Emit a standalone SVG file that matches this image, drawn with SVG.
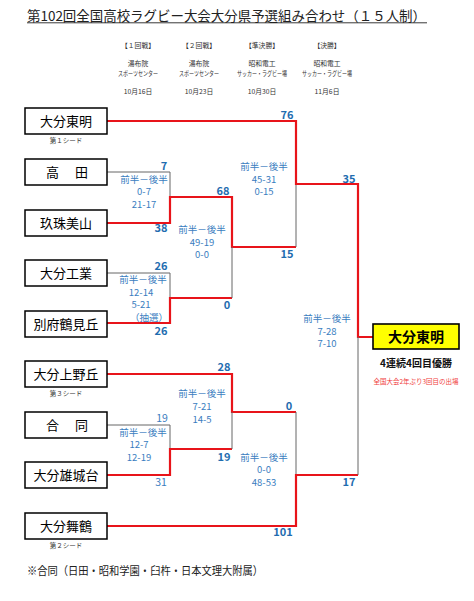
<svg xmlns="http://www.w3.org/2000/svg" width="474" height="601" viewBox="0 0 474 601">
<style>
text{font-family:"Noto Sans CJK JP","Liberation Sans",sans-serif;}
.box{fill:#fff;stroke:#000;stroke-width:1.5;}
.nm{font-size:13px;text-anchor:middle;fill:#000;}
.seed{font-size:6.5px;text-anchor:middle;fill:#333;}
.hd{font-size:6.8px;text-anchor:middle;fill:#333;}
.sc{font-size:11px;font-weight:bold;text-anchor:middle;fill:#1F6DB0;}
.scl{font-size:10.5px;text-anchor:middle;fill:#3A7DC0;}
.dt{font-size:9.5px;text-anchor:middle;fill:#3A7DC0;}
.r{fill:none;stroke:#E8141A;stroke-width:2.2;}
.g{fill:none;stroke:#666;stroke-width:1;}
</style>
<rect width="474" height="601" fill="#fff"/>
<g id="title">
<text x="27" y="20.5" font-size="13.5" fill="#222" textLength="399" lengthAdjust="spacingAndGlyphs">第102回全国高校ラグビー大会大分県予選組み合わせ（１５人制）</text>
<line x1="27" y1="22.8" x2="427" y2="22.8" stroke="#222" stroke-width="0.9"/>
</g>
<g id="headers">
<text class="hd" x="138" y="47.5">【１回戦】</text>
<text class="hd" x="199" y="47.5">【２回戦】</text>
<text class="hd" x="262" y="47.5">【準決勝】</text>
<text class="hd" x="327" y="47.5">【決勝】</text>
<text class="hd" x="138" y="65.5">湯布院</text>
<text class="hd" x="138" y="75.5" textLength="40" lengthAdjust="spacingAndGlyphs">スポーツセンター</text>
<text class="hd" x="199" y="65.5">湯布院</text>
<text class="hd" x="199" y="75.5" textLength="40" lengthAdjust="spacingAndGlyphs">スポーツセンター</text>
<text class="hd" x="262" y="65.5">昭和電工</text>
<text class="hd" x="262" y="75.5" textLength="50" lengthAdjust="spacingAndGlyphs">サッカー・ラグビー場</text>
<text class="hd" x="327" y="65.5">昭和電工</text>
<text class="hd" x="327" y="75.5" textLength="50" lengthAdjust="spacingAndGlyphs">サッカー・ラグビー場</text>
<text class="hd" x="138" y="94">10月16日</text>
<text class="hd" x="199" y="94">10月23日</text>
<text class="hd" x="262" y="94">10月30日</text>
<text class="hd" x="327" y="94">11月6日</text>
</g>
<g id="connectors">
<polyline class="g" points="107,172 170,172 170,197"/>
<polyline class="r" points="107,223 170,223 170,197 232,197 232,247 296,247"/>
<polyline class="g" points="107,273 170,273 170,298"/>
<polyline class="r" points="107,323 170,323 170,298 232,298"/>
<line class="g" x1="232" y1="298" x2="232" y2="247"/>
<line class="g" x1="296" y1="247" x2="296" y2="184"/>
<polyline class="r" points="107,121 296,121 296,184 358,184 358,337 373,337"/>
<polyline class="r" points="107,374 232,374 232,412 296,412"/>
<polyline class="g" points="107,425 170,425 170,449"/>
<polyline class="r" points="107,475 170,475 170,449 232,449"/>
<line class="g" x1="232" y1="449" x2="232" y2="412"/>
<line class="g" x1="296" y1="412" x2="296" y2="475"/>
<polyline class="r" points="107,526 296,526 296,475 358,475"/>
<line class="g" x1="358" y1="475" x2="358" y2="337"/>
</g>
<g id="n-oita-tomei"><rect class="box" x="25" y="108" width="82" height="26"/><text class="nm" x="66" y="125.5">大分東明</text><text class="seed" x="66" y="143">第１シード</text></g>
<g id="n-takada"><rect class="box" x="25" y="159" width="82" height="26"/><text class="nm" x="67" y="176.5" textLength="42" lengthAdjust="spacing">高　田</text></g>
<g id="n-kusu"><rect class="box" x="25" y="210" width="82" height="26"/><text class="nm" x="66" y="227.5">玖珠美山</text></g>
<g id="n-oita-kogyo"><rect class="box" x="25" y="260" width="82" height="26"/><text class="nm" x="66" y="277.5">大分工業</text></g>
<g id="n-beppu"><rect class="box" x="25" y="311" width="82" height="26"/><text class="nm" x="66" y="328.5">別府鶴見丘</text></g>
<g id="n-uenogaoka"><rect class="box" x="25" y="361" width="82" height="26"/><text class="nm" x="66" y="378.5">大分上野丘</text><text class="seed" x="66" y="396">第３シード</text></g>
<g id="n-godo"><rect class="box" x="25" y="412" width="82" height="26"/><text class="nm" x="67" y="429.5" textLength="42" lengthAdjust="spacing">合　同</text></g>
<g id="n-yujodai"><rect class="box" x="25" y="462" width="82" height="26"/><text class="nm" x="66" y="479.5">大分雄城台</text></g>
<g id="n-maizuru"><rect class="box" x="25" y="513" width="82" height="26"/><text class="nm" x="66" y="530.5">大分舞鶴</text><text class="seed" x="66" y="548">第２シード</text></g>
<g id="n-champion">
<rect x="373" y="324" width="86" height="25" fill="#FFFF00" stroke="#000" stroke-width="1.6"/>
<text x="416" y="341.5" font-size="14" font-weight="bold" text-anchor="middle" fill="#000">大分東明</text>
<text x="416" y="366.5" font-size="10" font-weight="bold" text-anchor="middle" fill="#111">4連続4回目優勝</text>
<text x="416" y="383.5" font-size="6.5" text-anchor="middle" fill="#F03C3C">全国大会2年ぶり3回目の出場</text>
</g>
<g id="scores">
<text class="sc" x="287" y="119">76</text>
<text class="sc" x="349" y="183">35</text>
<text class="sc" x="287" y="258">15</text>
<text class="sc" x="164" y="170">7</text>
<text class="sc" x="223" y="195">68</text>
<text class="sc" x="161" y="232">38</text>
<text class="sc" x="161" y="270">26</text>
<text class="sc" x="161" y="335">26</text>
<text class="sc" x="227" y="309">0</text>
<text class="sc" x="224" y="371">28</text>
<text class="sc" x="289" y="410">0</text>
<text class="scl" x="162" y="422">19</text>
<text class="scl" x="161" y="486">31</text>
<text class="sc" x="224" y="461">19</text>
<text class="sc" x="349" y="486">17</text>
<text class="sc" x="283" y="536">101</text>
</g>
<g id="details">
<text class="dt" x="144" y="182.5">前半－後半</text><text class="dt" x="144" y="195">0-7</text><text class="dt" x="144" y="207.5">21-17</text>
<text class="dt" x="202" y="232.5">前半－後半</text><text class="dt" x="202" y="245.5">49-19</text><text class="dt" x="202" y="258">0-0</text>
<text class="dt" x="264" y="169.5">前半－後半</text><text class="dt" x="264" y="182.5">45-31</text><text class="dt" x="264" y="194.5">0-15</text>
<text class="dt" x="143" y="283">前半－後半</text><text class="dt" x="141" y="296">12-14</text><text class="dt" x="141" y="308">5-21</text><text class="dt" x="149" y="320.5">（抽選）</text>
<text class="dt" x="327" y="321.5">前半－後半</text><text class="dt" x="327" y="334.5">7-28</text><text class="dt" x="327" y="346.5">7-10</text>
<text class="dt" x="202" y="396.5">前半－後半</text><text class="dt" x="202" y="409.5">7-21</text><text class="dt" x="202" y="422.5">14-5</text>
<text class="dt" x="143" y="436">前半－後半</text><text class="dt" x="139" y="448">12-7</text><text class="dt" x="139" y="460.5">12-19</text>
<text class="dt" x="264" y="460.5">前半－後半</text><text class="dt" x="264" y="472.5">0-0</text><text class="dt" x="264" y="485.5">48-53</text>
</g>
<g id="footnote">
<text x="27" y="575" font-size="11.5" fill="#222" textLength="236" lengthAdjust="spacingAndGlyphs">※合同（日田・昭和学園・臼杵・日本文理大附属）</text>
</g>
</svg>
